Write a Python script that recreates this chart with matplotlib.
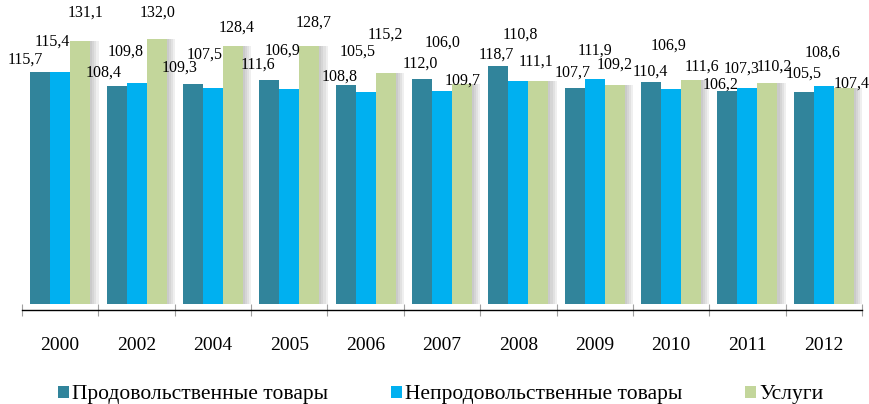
import matplotlib
matplotlib.use("Agg")
import matplotlib.pyplot as plt
import matplotlib.patheffects as pe
from matplotlib.patches import Patch
import numpy as np

plt.rcParams["font.family"] = ["Liberation Serif", "DejaVu Serif"]

years = ["2000", "2002", "2004", "2005", "2006", "2007", "2008", "2009", "2010", "2011", "2012"]
food = [115.7, 108.4, 109.3, 111.6, 108.8, 112.0, 118.7, 107.7, 110.4, 106.2, 105.5]
nonfood = [115.4, 109.8, 107.5, 106.9, 105.5, 106.0, 110.8, 111.9, 106.9, 107.3, 108.6]
services = [131.1, 132.0, 128.4, 128.7, 115.2, 109.7, 111.1, 109.2, 111.6, 110.2, 107.4]
series_names = ["Продовольственные товары", "Непродовольственные товары", "Услуги"]

# label offsets (pixels) relative to bar top centre, as placed in the original
food_dx = [-15, -12.5, -13, -11, -6, -2, -2, -2, -1, -6.5, 0]
food_dy = [11.7, 13.3, 16.5, 15, 8.5, 15, 10.7, 14.7, 10.3, 5.7, 18]
nonfood_dx = [-8, -10.5, -8, -7, -7.5, 1, 1.5, 0, -3, -5.5, -1]
nonfood_dy = [31, 31.5, 33, 39, 40, 48, 46.5, 29, 44, 19.5, 33]
serv_dx = [5, 1.5, 4, 4, 0, 1, -2.5, 0, 11, 6.5, 8]
serv_dy = [28, 26, 19, 22.5, 37.7, 3, 19, 20, 13, 16, 5]

colors = ["#31849B", "#00B0F0", "#C3D69B"]

W, H = 869, 404
fig = plt.figure(figsize=(W / 100, H / 100), dpi=100)
ax = fig.add_axes([22 / W, (H - 310) / H, 840 / W, 310 / H])

x = np.arange(len(years))
bw = 0.262
shadow = [pe.SimplePatchShadow(offset=(o, 0), shadow_rgbFace="#808080", alpha=0.12) for o in (1.5, 3, 4.5, 6)]

data = [food, nonfood, services]
dxs = [food_dx, nonfood_dx, serv_dx]
dys = [food_dy, nonfood_dy, serv_dy]
for k, (vals, col) in enumerate(zip(data, colors)):
    pos = x + (k - 1) * bw
    bars = ax.bar(pos, vals, width=bw, color=col, linewidth=0, zorder=2 + k)
    if k == 2:
        for b in bars:
            b.set_path_effects(shadow + [pe.Normal()])
    for p, v, dx, dy in zip(pos, vals, dxs[k], dys[k]):
        ax.annotate(f"{v:.1f}".replace(".", ","), xy=(p, v), xytext=(dx, dy),
                    textcoords="offset pixels", ha="center", va="center",
                    fontsize=11.5, color="#000000", zorder=10)

ax.set_xlim(-0.5, len(years) - 0.5)
ax.set_ylim(-3.1, 151.4)
for s in ["top", "right", "left"]:
    ax.spines[s].set_visible(False)
ax.spines["bottom"].set_color("#000000")
ax.spines["bottom"].set_linewidth(1.0)
ax.set_yticks([])
ax.set_xticks(x)
ax.set_xticklabels(years, fontsize=14)
ax.tick_params(axis="x", which="major", length=0, pad=19.5)
ax.set_xticks(np.arange(len(years) + 1) - 0.5, minor=True)
ax.tick_params(axis="x", which="minor", direction="inout", length=8, color="#a0a0a0", width=0.8)

handles = [Patch(facecolor=c, edgecolor="none") for c in colors]
fig.legend(handles, series_names, loc="center", bbox_to_anchor=(0.507, (H - 395) / H), ncol=3,
           frameon=False, prop={"size": 15.5},
           handlelength=0.51, handleheight=0.51, handletextpad=0.15, columnspacing=2.9,
           borderaxespad=0, borderpad=0)

fig.savefig("out.png", dpi=100)
